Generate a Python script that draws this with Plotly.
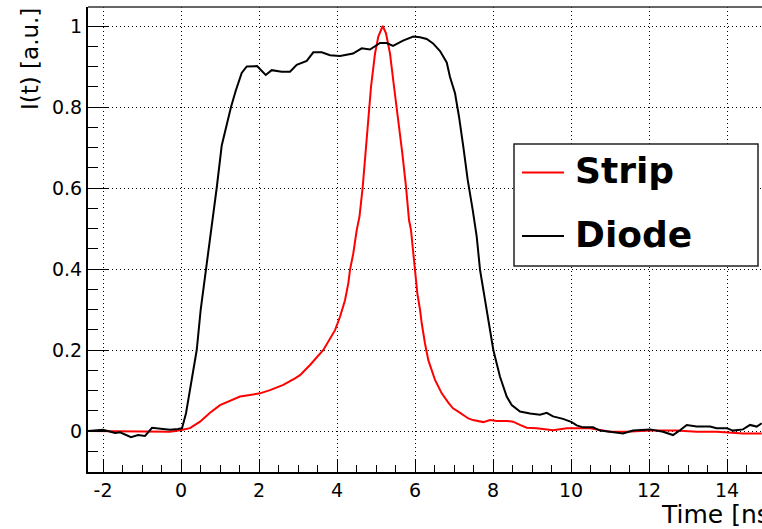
import plotly.graph_objects as go

# ---- data ----
diode_t = [-2.385, -2.0, -1.692, -1.564, -1.282, -1.103, -0.923, -0.744, -0.462, -0.282,
           -0.077, 0.026, 0.128, 0.231, 0.403, 0.505, 0.641, 0.795, 0.915, 1.044,
           1.282, 1.403, 1.556, 1.685, 1.897, 1.949, 2.172, 2.326, 2.582, 2.795,
           2.967, 3.223, 3.392, 3.608, 3.821, 4.077, 4.410, 4.633, 4.846, 5.103,
           5.274, 5.436, 5.692, 5.956, 6.128, 6.300, 6.462, 6.641, 6.813, 6.897,
           7.026, 7.128, 7.238, 7.351, 7.479, 7.582, 7.667, 7.838, 8.008, 8.179,
           8.351, 8.479, 8.692, 8.949, 9.205, 9.377, 9.538, 9.795, 10.018, 10.146,
           10.308, 10.564, 10.744, 11.0, 11.333, 11.590, 12.026, 12.359, 12.615, 12.795,
           12.967, 13.223, 13.564, 13.736, 13.992, 14.154, 14.410, 14.590, 14.762, 14.890]
diode_i = [0.000, 0.003, -0.005, -0.003, -0.015, -0.010, -0.012, 0.008, 0.005, 0.003,
           0.005, 0.007, 0.044, 0.100, 0.200, 0.300, 0.400, 0.500, 0.600, 0.705,
           0.800, 0.840, 0.884, 0.900, 0.900, 0.901, 0.879, 0.891, 0.887, 0.887,
           0.904, 0.914, 0.935, 0.935, 0.928, 0.926, 0.932, 0.945, 0.942, 0.958,
           0.958, 0.951, 0.964, 0.974, 0.972, 0.968, 0.957, 0.938, 0.910, 0.874,
           0.834, 0.776, 0.702, 0.620, 0.546, 0.480, 0.398, 0.299, 0.200, 0.134,
           0.085, 0.064, 0.048, 0.043, 0.040, 0.045, 0.036, 0.030, 0.022, 0.014,
           0.009, 0.009, 0.001, -0.002, -0.006, 0.001, 0.004, -0.002, -0.010, 0.002,
           0.015, 0.011, 0.011, 0.007, 0.007, 0.001, 0.004, 0.015, 0.011, 0.019]

strip_t = [-2.385, -0.282, -0.026, 0.231, 0.487, 0.744, 1.0, 1.256, 1.513, 1.769,
           2.026, 2.282, 2.623, 2.923, 3.051, 3.308, 3.649, 3.949, 4.077, 4.205,
           4.290, 4.333, 4.418, 4.505, 4.577, 4.659, 4.736, 4.803, 4.872, 4.974,
           5.059, 5.146, 5.172, 5.256, 5.359, 5.462, 5.572, 5.674, 5.769, 5.846,
           5.897, 5.956, 6.0, 6.059, 6.128, 6.172, 6.256, 6.341, 6.513, 6.685,
           6.854, 6.974, 7.110, 7.231, 7.367, 7.487, 7.623, 7.751, 7.923, 8.095,
           8.351, 8.513, 8.692, 8.864, 9.121, 9.538, 9.890, 10.146, 10.487, 11.0,
           11.428, 12.026, 12.710, 13.223, 13.736, 14.410, 14.890]
strip_i = [0.000, -0.002, 0.002, 0.007, 0.023, 0.045, 0.064, 0.075, 0.085, 0.089,
           0.093, 0.101, 0.114, 0.130, 0.138, 0.163, 0.200, 0.249, 0.282, 0.323,
           0.365, 0.398, 0.439, 0.496, 0.530, 0.603, 0.686, 0.768, 0.850, 0.932,
           0.974, 0.994, 1.000, 0.982, 0.932, 0.850, 0.768, 0.686, 0.603, 0.521,
           0.496, 0.439, 0.398, 0.340, 0.300, 0.266, 0.216, 0.175, 0.126, 0.093,
           0.070, 0.056, 0.048, 0.040, 0.031, 0.027, 0.025, 0.022, 0.027, 0.025,
           0.025, 0.023, 0.015, 0.008, 0.007, 0.002, 0.007, 0.007, 0.007, -0.002,
           -0.002, 0.001, 0.001, -0.002, -0.002, -0.006, -0.006]

x_tick_vals = [-2, 0, 2, 4, 6, 8, 10, 12, 14]
x_tick_labels = ["-2", "0", "2", "4", "6", "8", "10", "12", "14"]
y_tick_vals = [0, 0.2, 0.4, 0.6, 0.8, 1.0]
y_tick_labels = ["0", "0.2", "0.4", "0.6", "0.8", "1"]

series_names = ["Strip", "Diode"]
series_colors = ["#ff0000", "#000000"]

FONT = "DejaVu Sans"

fig = go.Figure()
fig.add_trace(go.Scatter(x=strip_t, y=strip_i, mode="lines", name=series_names[0],
                         line=dict(color=series_colors[0], width=2), showlegend=False))
fig.add_trace(go.Scatter(x=diode_t, y=diode_i, mode="lines", name=series_names[1],
                         line=dict(color=series_colors[1], width=2), showlegend=False))

W, H = 762, 529
# plot area in window pixels
PL, PR, PT, PB = 88, 762, 7, 472
L, T, R, B = PL, PT, W - PR, H - PB
pw, ph = PR - PL, PB - PT


def px(xp):
    return (xp - PL) / pw


def py(yp):
    return (PB - yp) / ph


fig.update_layout(
    width=W, height=H,
    margin=dict(l=L, r=R, t=T, b=B, pad=0),
    paper_bgcolor="white", plot_bgcolor="white",
    font=dict(family=FONT, size=19, color="black"),
    hovermode=False,
    xaxis=dict(range=[-2.385, 14.897], showline=True, linecolor="black", linewidth=2,
               ticks="inside", ticklen=13, tickwidth=1, tickcolor="black",
               tickmode="array", tickvals=x_tick_vals, ticktext=x_tick_labels,
               showgrid=True, gridcolor="black", gridwidth=1, griddash="1px,3px",
               zeroline=False, tickfont=dict(size=19),
               minor=dict(dtick=0.5, tick0=0, ticks="inside", ticklen=7,
                          tickcolor="black", tickwidth=1, showgrid=False)),
    yaxis=dict(range=[-0.1012, 1.0469], showline=True, linecolor="black", linewidth=2,
               ticks="inside", ticklen=20, tickwidth=1, tickcolor="black",
               tickmode="array", tickvals=y_tick_vals, ticktext=y_tick_labels,
               showgrid=True, gridcolor="black", gridwidth=1, griddash="1px,3px",
               zeroline=False, tickfont=dict(size=19),
               minor=dict(dtick=0.05, tick0=0, ticks="inside", ticklen=10,
                          tickcolor="black", tickwidth=1, showgrid=False)),
)

shapes = [
    # top frame line
    dict(type="line", xref="paper", yref="paper", x0=0, x1=1, y0=1, y1=1,
         line=dict(color="#333333", width=1.5)),
    # legend box
    dict(type="rect", xref="paper", yref="paper", x0=px(514), x1=px(758),
         y0=py(266), y1=py(144), fillcolor="white",
         line=dict(color="#222222", width=1.5), layer="above"),
    dict(type="line", xref="paper", yref="paper", x0=px(522), x1=px(564),
         y0=py(172.5), y1=py(172.5), line=dict(color=series_colors[0], width=2)),
    dict(type="line", xref="paper", yref="paper", x0=px(522), x1=px(564),
         y0=py(236), y1=py(236), line=dict(color=series_colors[1], width=2)),
]
fig.update_layout(shapes=shapes)

ann = [
    dict(text=series_names[0], xref="paper", yref="paper", x=px(573), y=py(170),
         xanchor="left", yanchor="middle", showarrow=False,
         font=dict(family=FONT, size=36, color="black", weight="bold")),
    dict(text=series_names[1], xref="paper", yref="paper", x=px(573), y=py(234),
         xanchor="left", yanchor="middle", showarrow=False,
         font=dict(family=FONT, size=36, color="black", weight="bold")),
    dict(text="I(t) [a.u.]", xref="paper", yref="paper", x=px(30), y=py(6),
         xanchor="center", yanchor="top", textangle=-90, showarrow=False,
         font=dict(family=FONT, size=23, color="black")),
    dict(text="Time [ns]", xref="paper", yref="paper", x=px(659), y=py(514),
         xanchor="left", yanchor="middle", showarrow=False,
         font=dict(family=FONT, size=25, color="black")),
]
fig.update_layout(annotations=ann)

# remove the default 8px page margin so the figure fills the 762x529 window
fig.write_html("out.html",
               config={"displayModeBar": False, "staticPlot": True},
               post_script="document.body.style.margin='0';"
                           "document.body.style.overflow='hidden';")
